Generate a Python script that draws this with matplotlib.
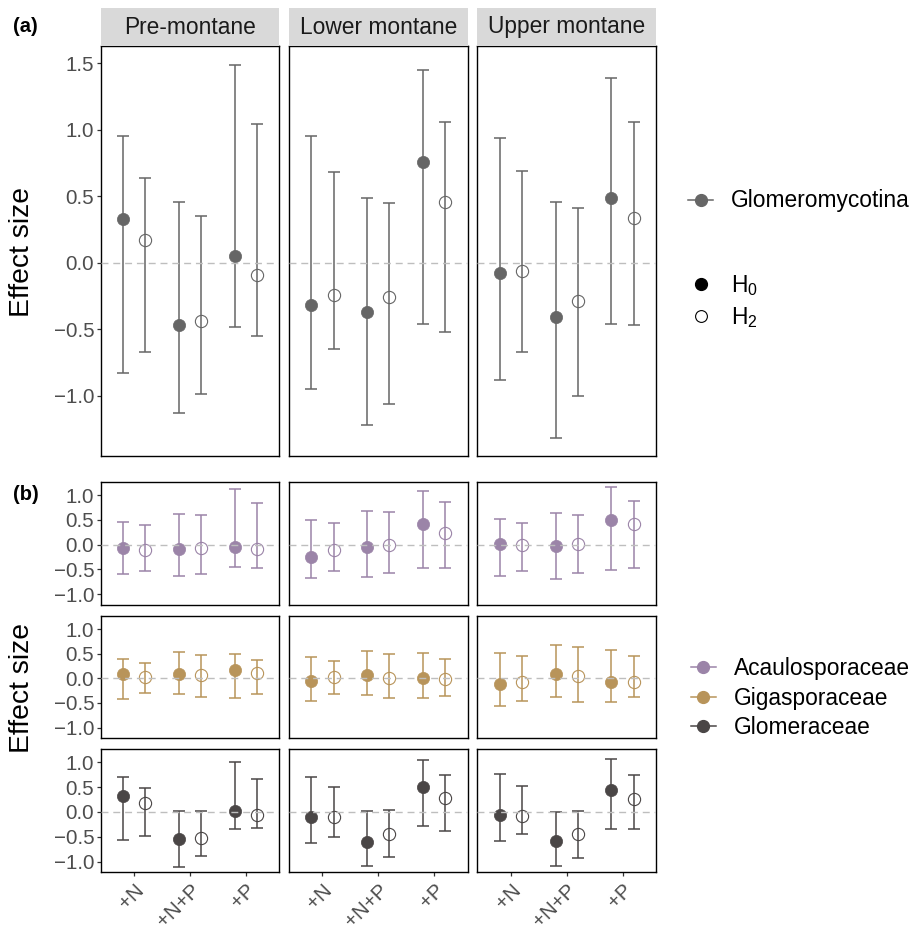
import numpy as np
import matplotlib
matplotlib.use('Agg')
from matplotlib import pyplot as plt
from matplotlib.lines import Line2D

plt.rcParams['font.family'] = ['Liberation Sans', 'DejaVu Sans']
plt.rcParams['mathtext.default'] = 'regular'

zones = ['Pre-montane', 'Lower montane', 'Upper montane']
treatments = ['+N', '+N+P', '+P']

# values ordered: pre-montane (+N, +N+P, +P), lower montane (...), upper montane (...)
glom_h0_mid = [0.33, -0.47, 0.05, -0.32, -0.37, 0.76, -0.08, -0.41, 0.49]
glom_h0_low = [-0.83, -1.13, -0.48, -0.95, -1.22, -0.46, -0.88, -1.32, -0.46]
glom_h0_high = [0.95, 0.46, 1.49, 0.95, 0.49, 1.45, 0.94, 0.46, 1.39]
glom_h2_mid = [0.17, -0.44, -0.09, -0.24, -0.26, 0.46, -0.06, -0.29, 0.34]
glom_h2_low = [-0.67, -0.99, -0.55, -0.65, -1.06, -0.52, -0.67, -1.00, -0.47]
glom_h2_high = [0.64, 0.35, 1.04, 0.68, 0.45, 1.06, 0.69, 0.41, 1.06]

acau_h0_mid = [-0.07, -0.08, -0.05, -0.24, -0.05, 0.42, 0.02, -0.03, 0.50]
acau_h0_low = [-0.60, -0.64, -0.44, -0.68, -0.65, -0.46, -0.64, -0.69, -0.51]
acau_h0_high = [0.46, 0.62, 1.12, 0.50, 0.68, 1.08, 0.52, 0.63, 1.17]
acau_h2_mid = [-0.11, -0.06, -0.09, -0.11, -0.01, 0.24, 0.00, 0.01, 0.42]
acau_h2_low = [-0.54, -0.60, -0.46, -0.54, -0.58, -0.48, -0.53, -0.58, -0.48]
acau_h2_high = [0.40, 0.60, 0.85, 0.44, 0.66, 0.87, 0.44, 0.60, 0.89]

giga_h0_mid = [0.09, 0.09, 0.16, -0.05, 0.07, 0.01, -0.12, 0.08, -0.08]
giga_h0_low = [-0.41, -0.32, -0.40, -0.45, -0.34, -0.40, -0.57, -0.38, -0.49]
giga_h0_high = [0.40, 0.53, 0.50, 0.44, 0.56, 0.51, 0.52, 0.68, 0.58]
giga_h2_mid = [0.02, 0.07, 0.10, 0.03, 0.00, -0.01, -0.07, 0.05, -0.07]
giga_h2_low = [-0.30, -0.37, -0.32, -0.31, -0.40, -0.36, -0.45, -0.49, -0.37]
giga_h2_high = [0.32, 0.48, 0.38, 0.35, 0.50, 0.40, 0.46, 0.63, 0.46]

glmc_h0_mid = [0.32, -0.55, 0.03, -0.11, -0.60, 0.50, -0.07, -0.58, 0.44]
glmc_h0_low = [-0.57, -1.10, -0.34, -0.63, -1.08, -0.29, -0.58, -1.09, -0.34]
glmc_h0_high = [0.71, 0.02, 1.01, 0.71, 0.01, 1.05, 0.77, -0.01, 1.07]
glmc_h2_mid = [0.18, -0.52, -0.06, -0.11, -0.44, 0.29, -0.09, -0.44, 0.26]
glmc_h2_low = [-0.48, -0.89, -0.32, -0.50, -0.90, -0.39, -0.45, -0.92, -0.34]
glmc_h2_high = [0.48, 0.01, 0.66, 0.50, 0.05, 0.75, 0.53, 0.02, 0.75]

col_glom = '#666666'
col_acau = '#9B84A8'
col_giga = '#B8945A'
col_glmc = '#4A4646'

W, H = 912, 931
fig = plt.figure(figsize=(W / 100, H / 100), dpi=100)


def fx(px):
    return px / W


def fy(px):
    return 1 - px / H


def draw_panel(ax, z, h0, h2, color, ylim, yticks):
    s = slice(3 * z, 3 * z + 3)
    x = np.arange(1, 4)
    for offs, data, filled in [(-0.2, h0, True), (0.2, h2, False)]:
        mid = np.array(data[0][s])
        low = np.array(data[1][s])
        high = np.array(data[2][s])
        ax.errorbar(x + offs, mid, yerr=[mid - low, high - mid], fmt='none',
                    ecolor=color, elinewidth=1.1, capsize=4.4, capthick=1.1, zorder=2)
        if filled:
            ax.plot(x + offs, mid, 'o', ms=8.8, mfc=color, mec=color, mew=0.5, zorder=3)
        else:
            ax.plot(x + offs, mid, 'o', ms=8.8, mfc='none', mec=color, mew=0.8, zorder=3)
    ax.axhline(0, color='#BEBEBE', lw=1.0, ls=(0, (5, 3.5)), zorder=5)
    ax.set_xlim(0.4, 3.6)
    ax.set_ylim(*ylim)
    ax.set_yticks(yticks)
    ax.set_yticklabels(['%.1f' % t if t >= 0 else '\u2212%.1f' % -t for t in yticks])
    ax.set_xticks(x)
    for sp in ax.spines.values():
        sp.set_color('black')
        sp.set_linewidth(1.0)
    ax.tick_params(length=3, width=0.9, color='#333333', pad=1.6,
                   labelcolor='#4D4D4D', labelsize=14.8)


col_x = [100.7, 289.0, 477.5]
pw = 178.6

# (a) Glomeromycotina
for z in range(3):
    ax = fig.add_axes([fx(col_x[z]), fy(455.7), fx(pw), (455.7 - 46) / H])
    draw_panel(ax, z, (glom_h0_mid, glom_h0_low, glom_h0_high),
               (glom_h2_mid, glom_h2_low, glom_h2_high), col_glom,
               (-1.451, 1.63), [-1.0, -0.5, 0.0, 0.5, 1.0, 1.5])
    ax.set_xticklabels([])
    ax.tick_params(axis='x', length=0)
    if z > 0:
        ax.set_yticklabels([])
        ax.tick_params(axis='y', length=0)
    sax = fig.add_axes([fx(col_x[z]), fy(46), fx(pw), 38 / H])
    sax.set_facecolor('#D9D9D9')
    sax.set_xticks([])
    sax.set_yticks([])
    for sp in sax.spines.values():
        sp.set_visible(False)
    sax.text(0.5, 0.5, zones[z], ha='center', va='center', fontsize=16.4,
             color='#1A1A1A', transform=sax.transAxes)

# (b) families
rows = [(481.7, 604.7, acau_h0_mid, acau_h0_low, acau_h0_high,
         acau_h2_mid, acau_h2_low, acau_h2_high, col_acau),
        (615.7, 738.0, giga_h0_mid, giga_h0_low, giga_h0_high,
         giga_h2_mid, giga_h2_low, giga_h2_high, col_giga),
        (749.0, 872.0, glmc_h0_mid, glmc_h0_low, glmc_h0_high,
         glmc_h2_mid, glmc_h2_low, glmc_h2_high, col_glmc)]
for r, row in enumerate(rows):
    top, bot = row[0], row[1]
    for z in range(3):
        ax = fig.add_axes([fx(col_x[z]), fy(bot), fx(pw), (bot - top) / H])
        draw_panel(ax, z, row[2:5], row[5:8], row[8],
                   (-1.21, 1.27), [-1.0, -0.5, 0.0, 0.5, 1.0])
        if r < 2:
            ax.set_xticklabels([])
            ax.tick_params(axis='x', length=0)
        else:
            ax.set_xticklabels(treatments, rotation=45, ha='right', va='top',
                               rotation_mode='anchor')
            ax.tick_params(axis='x', pad=3)
        if z > 0:
            ax.set_yticklabels([])
            ax.tick_params(axis='y', length=0)

fig.text(fx(13), fy(27), '(a)', fontsize=14.5, fontweight='bold', va='center', ha='left')
fig.text(fx(13), fy(495), '(b)', fontsize=14.5, fontweight='bold', va='center', ha='left')
fig.text(fx(21.7), fy(251.7), 'Effect size', rotation=90, fontsize=20.3,
         ha='center', va='center')
fig.text(fx(21.7), fy(688), 'Effect size', rotation=90, fontsize=20.3,
         ha='center', va='center')

# legends
leg_kw = dict(frameon=False, loc='center left', fontsize=16.4, borderpad=0,
              borderaxespad=0, handlelength=1.1, handletextpad=0.8, labelspacing=0.3)
h_glom = [Line2D([], [], color=col_glom, lw=1.1, marker='o', ms=8.5)]
fig.legend(h_glom, ['Glomeromycotina'], bbox_to_anchor=(fx(688), fy(201)), **leg_kw)

h_hyp = [Line2D([], [], ls='none', marker='o', ms=8.5, mfc='black', mec='black'),
         Line2D([], [], ls='none', marker='o', ms=8.5, mfc='none', mec='black', mew=0.8)]
fig.legend(h_hyp, ['H$_0$', 'H$_2$'], bbox_to_anchor=(fx(688), fy(301.3)), **leg_kw)

h_fam = [Line2D([], [], color=c, lw=1.1, marker='o', ms=8.5)
         for c in (col_acau, col_giga, col_glmc)]
fig.legend(h_fam, ['Acaulosporaceae', 'Gigasporaceae', 'Glomeraceae'],
           bbox_to_anchor=(fx(690.7), fy(698)), **leg_kw)

fig.savefig('out.png', dpi=100)
